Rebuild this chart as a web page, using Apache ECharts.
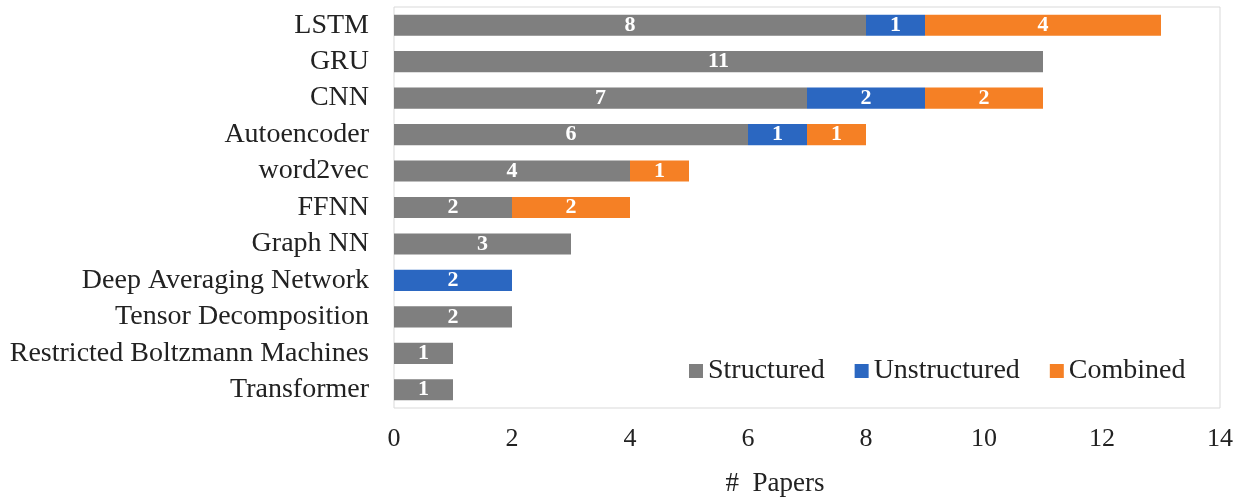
<!DOCTYPE html>
<html><head><meta charset="utf-8">
<script src="https://cdn.jsdelivr.net/npm/echarts@6/dist/echarts.min.js"></script>
<style>html,body{margin:0;padding:0;background:#fff}#c{width:1252px;height:502px}</style>
</head><body><div id="c"></div>
<script>
const categories = ["LSTM","GRU","CNN","Autoencoder","word2vec","FFNN","Graph NN","Deep Averaging Network","Tensor Decomposition","Restricted Boltzmann Machines","Transformer"];
const structured = [8,11,7,6,4,2,3,null,2,1,1];
const unstructured = [1,null,2,1,null,null,null,2,null,null,null];
const combined = [4,null,2,1,1,2,null,null,null,null,null];
const xTicks = {min:0,max:14,interval:2};

const font = 'Liberation Serif, Times New Roman, serif';
function mk(name, data, color){
  return {name, type:'bar', stack:'t', data, barCategoryGap:'42%',
    itemStyle:{color},
    label:{show:true, position:'inside', color:'#fff', fontFamily:font, fontWeight:'bold', fontSize:22}};
}
const chart = echarts.init(document.getElementById('c'));
chart.setOption({
  animation:false,
  grid:{left:394, right:32, top:7, bottom:93, show:true, borderColor:'#d9d9d9', borderWidth:1},
  legend:{left:684, top:352, itemWidth:14, itemHeight:14, itemGap:30, icon:'rect',
    textStyle:{fontFamily:font, fontSize:28, color:'#222'}},
  xAxis:{type:'value', min:xTicks.min, max:xTicks.max, interval:xTicks.interval,
    axisLine:{show:false}, axisTick:{show:false}, splitLine:{show:false},
    axisLabel:{fontFamily:font, fontSize:26, color:'#222', margin:18},
    name:'#  Papers', nameLocation:'middle', nameGap:62,
    nameTextStyle:{fontFamily:font, fontSize:27, color:'#222', padding:[0,64,0,0]}},
  yAxis:{type:'category', data:categories, inverse:true,
    axisLine:{show:false}, axisTick:{show:false},
    axisLabel:{fontFamily:font, fontSize:28, color:'#222', margin:25}},
  series:[mk('Structured', structured, '#7f7f7f'), mk('Unstructured', unstructured, '#2b67c1'), mk('Combined', combined, '#f58025')]
});
</script></body></html>
